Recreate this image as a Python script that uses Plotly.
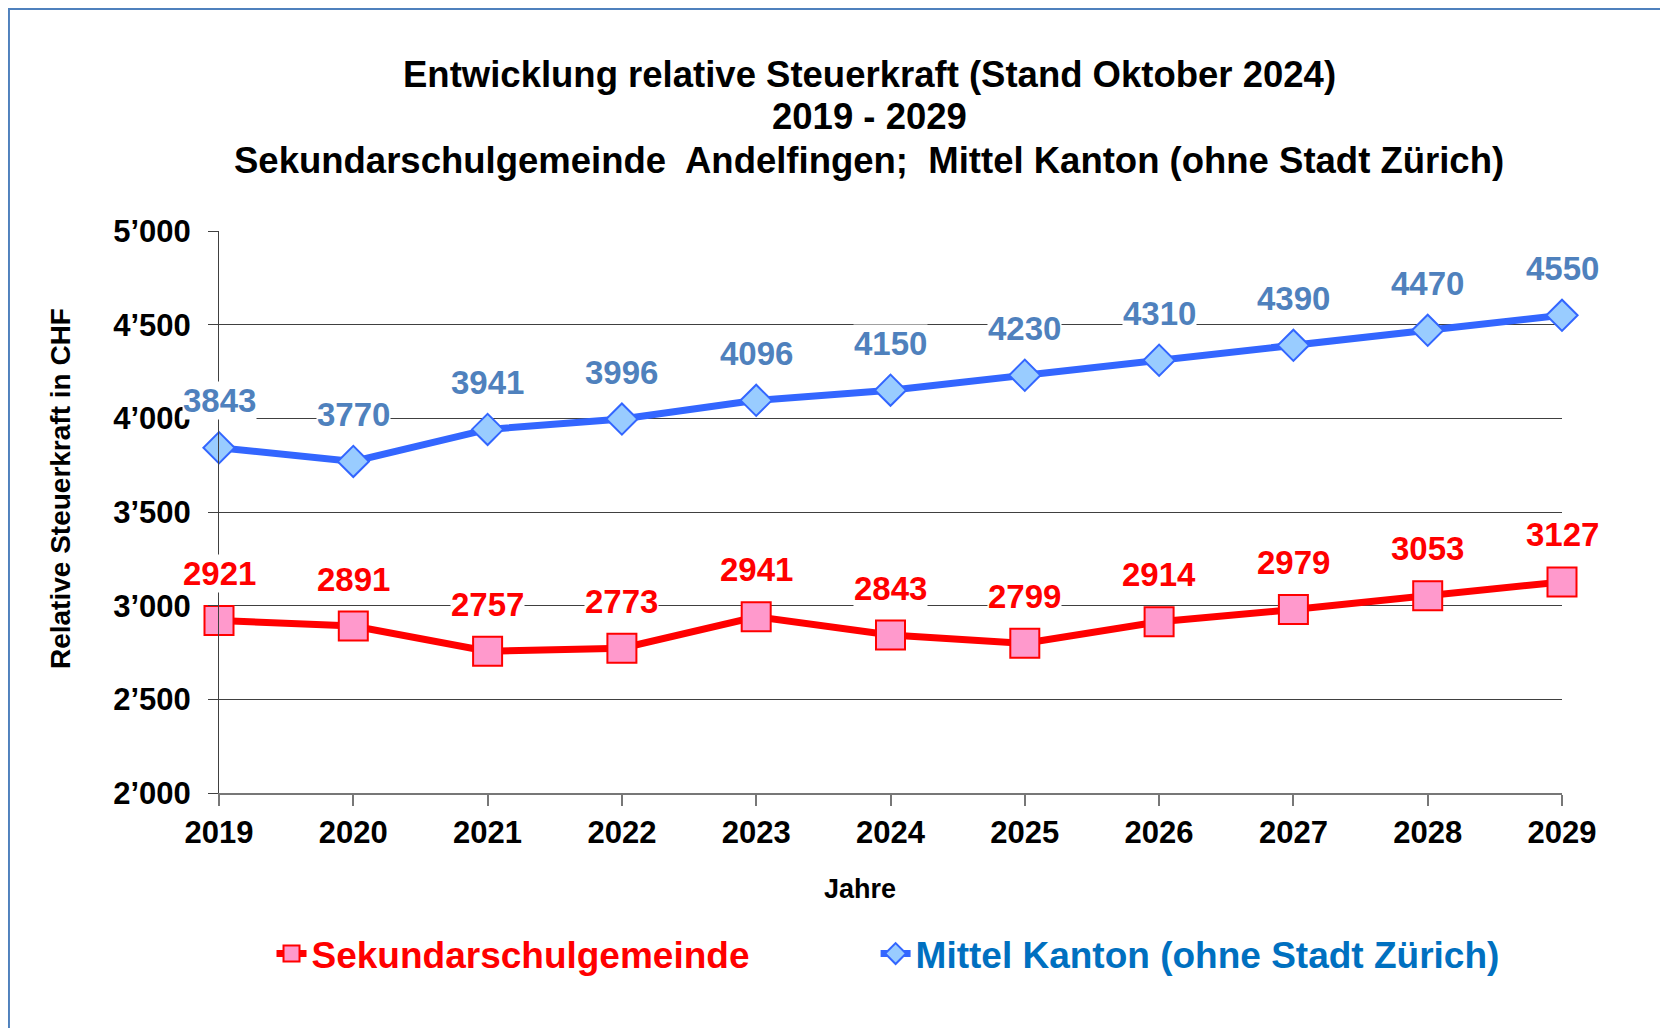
import plotly.graph_objects as go

jahre = [2019, 2020, 2021, 2022, 2023, 2024, 2025, 2026, 2027, 2028, 2029]
sekundar = [2921, 2891, 2757, 2773, 2941, 2843, 2799, 2914, 2979, 3053, 3127]
kanton = [3843, 3770, 3941, 3996, 4096, 4150, 4230, 4310, 4390, 4470, 4550]
y_ticks = [2000, 2500, 3000, 3500, 4000, 4500, 5000]
y_labels = ["2’000", "2’500", "3’000", "3’500", "4’000", "4’500", "5’000"]

titel = [
    "Entwicklung relative Steuerkraft (Stand Oktober 2024)",
    "2019 - 2029",
    "Sekundarschulgemeinde\u00a0 Andelfingen;\u00a0 Mittel Kanton (ohne Stadt Zürich)",
]

FONT = "Arial, 'Liberation Sans', sans-serif"
RED = "#FF0000"
BLUE_LINE = "#3366FF"
BLUE_LABEL = "#4F81BD"

fig = go.Figure()

fig.add_trace(go.Scatter(
    x=jahre, y=sekundar, name="Sekundarschulgemeinde",
    mode="lines+markers", cliponaxis=False, legend="legend",
    line=dict(color=RED, width=7),
    marker=dict(symbol="square", size=29, color="#FF99CC",
                line=dict(color=RED, width=2)),
))
fig.add_trace(go.Scatter(
    x=jahre, y=kanton, name="Mittel Kanton (ohne Stadt Zürich)",
    mode="lines+markers", cliponaxis=False, legend="legend2",
    line=dict(color=BLUE_LINE, width=7),
    marker=dict(symbol="diamond", size=24, color="#99CCFF",
                line=dict(color=BLUE_LINE, width=2)),
))

# data labels with white background (they break the gridlines)
for serie, farbe in [(sekundar, RED), (kanton, BLUE_LABEL)]:
    for j, v in zip(jahre, serie):
        fig.add_annotation(
            x=j, y=v, text="<b>%d</b>" % v, showarrow=False, yshift=47,
            bgcolor="white", borderpad=0,
            font=dict(family=FONT, size=33, color=farbe),
        )

# title lines
for txt, yp in zip(titel, [1.279, 1.203, 1.126]):
    fig.add_annotation(
        x=0.484, y=yp, xref="paper", yref="paper", text="<b>%s</b>" % txt,
        showarrow=False, xanchor="center", yanchor="middle",
        font=dict(family=FONT, size=36.5, color="black"),
    )

fig.add_annotation(
    x=-0.1176, y=0.541, xref="paper", yref="paper", textangle=-90,
    text="<b>Relative Steuerkraft in CHF</b>", showarrow=False,
    xanchor="center", yanchor="middle",
    font=dict(family=FONT, size=28, color="black"),
)
fig.add_annotation(
    x=0.477, y=-0.171, xref="paper", yref="paper", text="<b>Jahre</b>",
    showarrow=False, xanchor="center", yanchor="middle",
    font=dict(family=FONT, size=27, color="black"),
)

# chart area border (only top and left are visible)
fig.add_shape(type="rect", xref="paper", yref="paper",
              x0=-0.1564, x1=1.3, y0=-0.6, y1=1.395,
              line=dict(color="#4F81BD", width=2))

fig.update_layout(
    width=1660, height=1020,
    margin=dict(l=211, r=106, t=223, b=235),
    paper_bgcolor="white", plot_bgcolor="white",
    font=dict(family=FONT, color="black"),
    legend=dict(x=0.0391, y=-0.2865, xanchor="left", yanchor="middle",
                font=dict(family=FONT, size=37, color=RED, weight="bold"),
                bgcolor="rgba(0,0,0,0)"),
    legend2=dict(x=0.4889, y=-0.2865, xanchor="left", yanchor="middle",
                 font=dict(family=FONT, size=37, color="#0070C0", weight="bold"),
                 bgcolor="rgba(0,0,0,0)"),
    xaxis=dict(
        range=[2019, 2029], tickvals=jahre, showgrid=False, zeroline=False,
        showline=True, linecolor="#777777", linewidth=2,
        ticks="outside", ticklen=11, tickcolor="#777777", tickwidth=2,
        ticklabelstandoff=0,
        tickfont=dict(family=FONT, size=31, color="black", weight="bold"),
    ),
    yaxis=dict(
        range=[2000, 5000], tickvals=y_ticks, ticktext=y_labels,
        showgrid=True, gridcolor="#404040", gridwidth=1, zeroline=False,
        showline=True, linecolor="#404040", linewidth=1,
        ticks="outside", ticklen=10, tickcolor="#404040",
        ticklabelstandoff=11,
        tickfont=dict(family=FONT, size=31, color="black", weight="bold"),
    ),
    showlegend=True,
)

fig.write_html("out.html")
